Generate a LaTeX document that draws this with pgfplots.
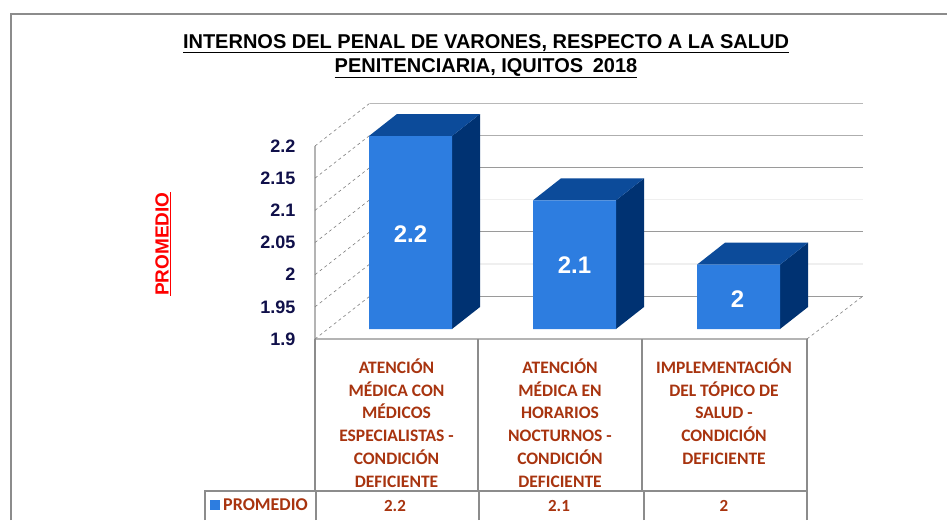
\documentclass[border=0pt]{standalone}
\usepackage{pgfplots}
\pgfplotsset{compat=1.18}
\usepackage{fontspec}
\setmainfont{Liberation Sans}
\newfontfamily\calib{Carlito}
\definecolor{barfront}{HTML}{2D7DE0}
\definecolor{bartop}{HTML}{0C4B9A}
\definecolor{barside}{HTML}{003272}
\definecolor{catcol}{HTML}{A8340F}
\definecolor{ticknavy}{HTML}{10104A}
\definecolor{gridd}{HTML}{9A9A9A}
\definecolor{gridl}{HTML}{EFEFEF}
\definecolor{wallc}{HTML}{B4B4B4}
\definecolor{framec}{HTML}{8C8C8C}
\newcommand{\ul}[1]{\underline{#1}}
\begin{document}
\begin{tikzpicture}[x=1pt,y=1pt]
\path[fill=white] (0,0) rectangle (947,520);
\clip (0,0) rectangle (947,520);
\draw[framec,line width=1.4pt] (11,0) -- (11,506) -- (947,506);
\begin{axis}[
  at={(315pt,181pt)},anchor=south west,scale only axis,
  width=548pt,height=193pt,
  xmin=315,xmax=863,ymin=1.9,ymax=2.2,
  clip=false,
  axis lines=none,
]
\addplot[wallc,line width=1.2pt] coordinates {(315,1.9) (315,2.2)};
\addplot[wallc,line width=1.4pt] coordinates {(315,1.9) (807,1.9)};
\addplot[gridd,line width=1pt] coordinates {(370,1.9668) (863,1.9668)};
\addplot[gridl,line width=1.6pt] coordinates {(370,2.0168) (863,2.0168)};
\addplot[gridd,line width=1pt] coordinates {(370,2.0668) (863,2.0668)};
\addplot[gridl,line width=1.6pt] coordinates {(370,2.1168) (863,2.1168)};
\addplot[gridd,line width=1pt] coordinates {(370,2.1668) (863,2.1668)};
\addplot[gridd!80,line width=1pt] coordinates {(370,2.2168) (863,2.2168)};
\addplot[gridd!70,line width=1pt] coordinates {(370,2.2668) (863,2.2668)};
\addplot[gray,dashed,line width=.6pt] coordinates {(315,1.9) (370,1.9668)};
\addplot[gray,dashed,line width=.6pt] coordinates {(315,1.95) (370,2.0168)};
\addplot[gray,dashed,line width=.6pt] coordinates {(315,2.0) (370,2.0668)};
\addplot[gray,dashed,line width=.6pt] coordinates {(315,2.05) (370,2.1168)};
\addplot[gray,dashed,line width=.6pt] coordinates {(315,2.1) (370,2.1668)};
\addplot[gray,dashed,line width=.6pt] coordinates {(315,2.15) (370,2.2168)};
\addplot[gray,dashed,line width=.6pt] coordinates {(315,2.2) (370,2.2668)};
\addplot[gray,dashed,line width=.6pt] coordinates {(807,1.9) (863,1.9668)};
\end{axis}
\begin{axis}[
  at={(315pt,191pt)},anchor=south west,scale only axis,
  width=548pt,height=193pt,
  xmin=315,xmax=863,ymin=1.9,ymax=2.2,
  clip=false,
  axis line style={draw=none},
  tick style={draw=none},
  xtick={396.5,560,724},
  xticklabels={
    {ATENCIÓN\\MÉDICA CON\\MÉDICOS\\ESPECIALISTAS -\\CONDICIÓN\\DEFICIENTE},
    {ATENCIÓN\\MÉDICA EN\\HORARIOS\\NOCTURNOS -\\CONDICIÓN\\DEFICIENTE},
    {IMPLEMENTACIÓN\\DEL TÓPICO DE\\SALUD -\\CONDICIÓN\\DEFICIENTE}},
  x tick label style={anchor=north,align=center,yshift=-26pt,text=catcol,
    font=\calib\bfseries\fontsize{17.5}{22.8}\selectfont},
  ytick={1.9,1.95,2,2.05,2.1,2.15,2.2},
  yticklabels={1.9,1.95,2,2.05,2.1,2.15,2.2},
  y tick label style={text=ticknavy,font=\bfseries\fontsize{18}{20}\selectfont,
    anchor=east,xshift=-16pt,yshift=-10pt},
]
\addplot[fill=barside,draw=none] coordinates {(452,1.9) (480,1.9342) (480,2.2342) (452,2.2)} -- cycle;
\addplot[fill=barside,draw=none] coordinates {(616,1.9) (644,1.9342) (644,2.1342) (616,2.1)} -- cycle;
\addplot[fill=barside,draw=none] coordinates {(780,1.9) (808,1.9342) (808,2.0342) (780,2.0)} -- cycle;
\addplot[fill=bartop,draw=none] coordinates {(369,2.2) (397,2.2342) (480,2.2342) (452,2.2)} -- cycle;
\addplot[fill=bartop,draw=none] coordinates {(533,2.1) (561,2.1342) (644,2.1342) (616,2.1)} -- cycle;
\addplot[fill=bartop,draw=none] coordinates {(697,2.0) (725,2.0342) (808,2.0342) (780,2.0)} -- cycle;
\addplot[ybar,bar width=83pt,bar shift=0pt,fill=barfront,draw=none] coordinates {(410.5,2.2) (574.5,2.1) (738.5,2.0)};
\end{axis}
\node[text=white,font=\bfseries\fontsize{24}{26}\selectfont] at (410.5,286) {2.2};
\node[text=white,font=\bfseries\fontsize{24}{26}\selectfont] at (574.5,255) {2.1};
\node[text=white,font=\bfseries\fontsize{24}{26}\selectfont] at (737.5,221) {2};
\node[rotate=90,text=red,font=\bfseries\fontsize{19}{21}\selectfont] at (163,276) {\ul{PROMEDIO}};
\node[align=center,font=\bfseries\fontsize{20}{24}\selectfont] at (486,464)
  {\ul{INTERNOS DEL PENAL DE VARONES, RESPECTO A LA SALUD}\\\ul{PENITENCIARIA, IQUITOS\hspace{4pt} 2018}};
\draw[framec,line width=1.3pt] (315,181) -- (315,29) (478,181) -- (478,29) (642,181) -- (642,29) (807,181) -- (807,29);
\draw[framec,line width=1.3pt] (205,0) -- (205,29) -- (807,29);
\draw[framec,line width=1.3pt] (316,0) -- (316,29) (479,0) -- (479,29) (644,0) -- (644,29) (807,0) -- (807,29);
\fill[barfront] (210,10) rectangle (220,20);
\node[anchor=west,inner sep=0pt,text=catcol,font=\calib\bfseries\fontsize{18}{20}\selectfont] at (223,15.5) {PROMEDIO};
\node[text=catcol,font=\calib\bfseries\fontsize{17}{18}\selectfont] at (395,14) {2.2};
\node[text=catcol,font=\calib\bfseries\fontsize{17}{18}\selectfont] at (559,14) {2.1};
\node[text=catcol,font=\calib\bfseries\fontsize{17}{18}\selectfont] at (724,14) {2};
\end{tikzpicture}
\end{document}
